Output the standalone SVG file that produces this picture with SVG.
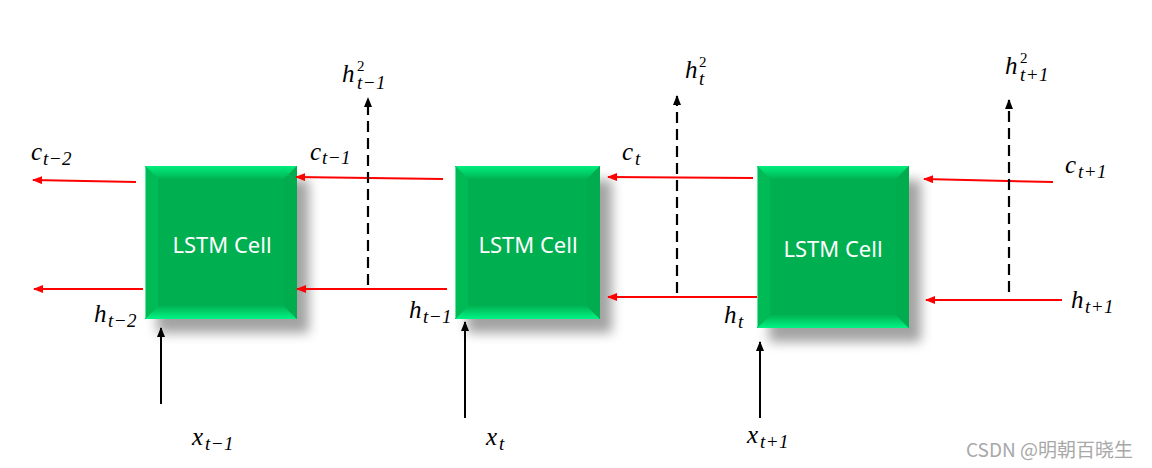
<svg xmlns="http://www.w3.org/2000/svg" width="1152" height="468" viewBox="0 0 1152 468">
<style>
.m{font-family:"Liberation Serif","DejaVu Serif",serif;font-style:italic;font-size:25px;fill:#000}
.s{font-family:"Liberation Serif","DejaVu Serif",serif;font-style:italic;font-size:19px;letter-spacing:0.5px;fill:#000}
.p{font-family:"Liberation Serif","DejaVu Serif",serif;font-size:15px;fill:#000}
.lbl{font-family:"Noto Sans","Liberation Sans",sans-serif;font-size:22px;fill:#fff;text-anchor:middle}
.face{fill:#00B050}
.bt{fill:url(#gTop)}
.bb{fill:url(#gBot)}
.bl{fill:#00BA56}
.br{fill:#00AC4E}
.edge{fill:none;stroke:#5FE3A0;stroke-width:1}
.sh{fill:#000;opacity:0.36;filter:url(#blur)}
.red{stroke:#FF0000;stroke-width:2;fill:none;marker-end:url(#ar)}
.blk{stroke:#000;stroke-width:2;fill:none;marker-end:url(#ab)}
.dash{stroke:#000;stroke-width:2.2;fill:none;stroke-dasharray:11 6;marker-end:url(#ab)}
.wm{font-family:"Noto Sans CJK SC","Noto Sans",sans-serif;font-size:19px;fill:#a8a8a8}
</style>
<defs>
<linearGradient id="gTop" x1="0" y1="0" x2="0" y2="1">
<stop offset="0" stop-color="#00EE7C"/><stop offset="1" stop-color="#00B453"/>
</linearGradient>
<linearGradient id="gBot" x1="0" y1="0" x2="0" y2="1">
<stop offset="0" stop-color="#00B453"/><stop offset="1" stop-color="#00F484"/>
</linearGradient>
<filter id="blur" x="-30%" y="-30%" width="160%" height="160%">
<feGaussianBlur stdDeviation="6"/>
</filter>
<marker id="ar" markerUnits="userSpaceOnUse" markerWidth="12" markerHeight="10" refX="9" refY="4" orient="auto">
<path d="M0,0 L10,4 L0,8 Z" fill="#FF0000"/>
</marker>
<marker id="ab" markerUnits="userSpaceOnUse" markerWidth="12" markerHeight="10" refX="9" refY="4" orient="auto">
<path d="M0,0 L10,4 L0,8 Z" fill="#000"/>
</marker>
</defs>
<rect width="1152" height="468" fill="#fff"/>

<g id="cell1" transform="translate(145,166)">
<rect class="sh" x="12" y="14" width="152" height="153"/>
<rect class="face" width="152" height="153"/>
<path class="bt" d="M0,0 L152,0 L139,13 L13,13 Z"/>
<path class="bb" d="M0,153 L152,153 L139,140 L13,140 Z"/>
<path class="bl" d="M0,0 L13,13 L13,140 L0,153 Z"/>
<path class="br" d="M152,0 L152,153 L139,140 L139,13 Z"/>
<line class="edge" x1="0.5" y1="1" x2="0.5" y2="152"/>
<text class="lbl" x="77" y="87">LSTM Cell</text>
</g>

<g id="cell2" transform="translate(455,166)">
<rect class="sh" x="12" y="14" width="145" height="153"/>
<rect class="face" width="145" height="153"/>
<path class="bt" d="M0,0 L145,0 L132,13 L13,13 Z"/>
<path class="bb" d="M0,153 L145,153 L132,140 L13,140 Z"/>
<path class="bl" d="M0,0 L13,13 L13,140 L0,153 Z"/>
<path class="br" d="M145,0 L145,153 L132,140 L132,13 Z"/>
<line class="edge" x1="0.5" y1="1" x2="0.5" y2="152"/>
<text class="lbl" x="73" y="87">LSTM Cell</text>
</g>

<g id="cell3" transform="translate(757,166)">
<rect class="sh" x="12" y="14" width="152" height="162"/>
<rect class="face" width="152" height="162"/>
<path class="bt" d="M0,0 L152,0 L139,13 L13,13 Z"/>
<path class="bb" d="M0,162 L152,162 L139,149 L13,149 Z"/>
<path class="bl" d="M0,0 L13,13 L13,149 L0,162 Z"/>
<path class="br" d="M152,0 L152,162 L139,149 L139,13 Z"/>
<line class="edge" x1="0.5" y1="1" x2="0.5" y2="161"/>
<text class="lbl" x="76" y="91">LSTM Cell</text>
</g>

<g id="connectors">
<line class="red" x1="136" y1="182" x2="33" y2="180"/>
<line class="red" x1="143" y1="289" x2="34" y2="289"/>
<line class="red" x1="443" y1="179" x2="296" y2="177"/>
<line class="red" x1="447" y1="289" x2="297" y2="289"/>
<line class="red" x1="753" y1="178" x2="608" y2="177"/>
<line class="red" x1="757" y1="297" x2="608" y2="297"/>
<line class="red" x1="1053" y1="182" x2="924" y2="179"/>
<line class="red" x1="1062" y1="300" x2="926" y2="300"/>
<line class="dash" x1="368" y1="285" x2="368" y2="98"/>
<line class="dash" x1="677" y1="293" x2="677" y2="96"/>
<line class="dash" x1="1009" y1="292" x2="1009" y2="100"/>
<line class="blk" x1="161" y1="404" x2="161" y2="328"/>
<line class="blk" x1="465" y1="418" x2="465" y2="322"/>
<line class="blk" x1="760" y1="418" x2="760" y2="342"/>
</g>

<g id="labels">
<text class="m" x="31" y="160">c</text><text class="s" x="43" y="165">t−2</text>
<text class="m" x="94" y="322">h</text><text class="s" x="108" y="327">t−2</text>
<text class="m" x="342" y="82">h</text><text class="p" x="357" y="71">2</text><text class="s" x="357" y="89">t−1</text>
<text class="m" x="310" y="160">c</text><text class="s" x="322" y="164">t−1</text>
<text class="m" x="409" y="318">h</text><text class="s" x="423" y="323">t−1</text>
<text class="m" x="685" y="78">h</text><text class="p" x="699" y="67">2</text><text class="s" x="699" y="85">t</text>
<text class="m" x="622" y="160">c</text><text class="s" x="635" y="165">t</text>
<text class="m" x="724" y="323">h</text><text class="s" x="738" y="328">t</text>
<text class="m" x="1005" y="74">h</text><text class="p" x="1020" y="63">2</text><text class="s" x="1020" y="81">t+1</text>
<text class="m" x="1065" y="173">c</text><text class="s" x="1078" y="178">t+1</text>
<text class="m" x="1071" y="308">h</text><text class="s" x="1085" y="313">t+1</text>
<text class="m" x="192" y="445">x</text><text class="s" x="205" y="450">t−1</text>
<text class="m" x="486" y="445">x</text><text class="s" x="499" y="450">t</text>
<text class="m" x="747" y="443">x</text><text class="s" x="760" y="448">t+1</text>
</g>

<text class="wm" x="966" y="457">CSDN @明朝百晓生</text>
</svg>
